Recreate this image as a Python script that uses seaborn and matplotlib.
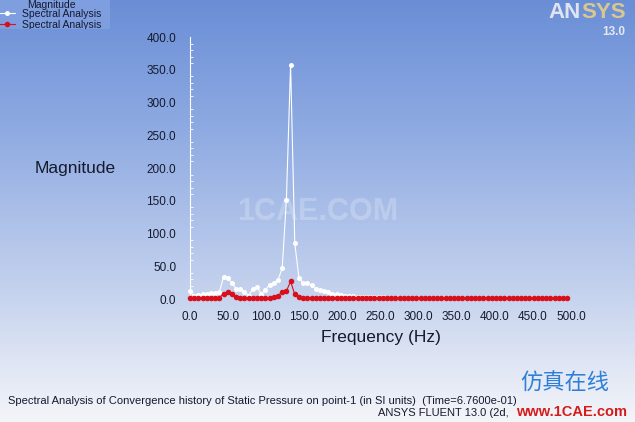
import numpy as np
import pandas as pd
import matplotlib
matplotlib.use("Agg")
import matplotlib.pyplot as plt
from matplotlib.colors import LinearSegmentedColormap
from matplotlib.transforms import Bbox
from matplotlib.patches import Rectangle
import seaborn as sns

# ---------------- data ----------------
freq_step_hz = 5.5
n_points = 91
frequency = [round(i * freq_step_hz, 2) for i in range(n_points)]

magnitude_white = [
    12, 4, 6, 7, 8, 9, 9, 10, 34, 32,
    24, 16, 15, 11, 5, 16, 18, 8, 14, 22,
    25, 29, 47, 151, 358, 85, 32, 25, 24, 21,
    15, 13, 12, 11, 8, 7, 6, 5, 4, 4,
    3, 3, 3, 3, 3, 3, 3, 2, 2, 2,
    2, 2, 2, 2, 2, 2, 2, 2, 2, 2,
    2, 2, 2, 2, 2, 2, 2, 2, 2, 2,
    2, 2, 2, 2, 2, 2, 2, 2, 2, 2,
    2, 2, 2, 2, 2, 2, 2, 2, 2, 2,
    2,
]
magnitude_red = [
    1.5, 1.5, 1.5, 1.5, 1.5, 1.5, 1.5, 2, 8, 10,
    7, 3, 2, 2, 2, 2, 2, 2, 2, 2,
    3, 5, 11, 12, 27, 7, 3, 2, 2, 2,
    2, 2, 2, 2, 2, 2, 2, 2, 2, 2,
    1.5, 1.5, 1.5, 1.5, 1.5, 1.5, 1.5, 1.5, 1.5, 1.5,
    1.5, 1.5, 1.5, 1.5, 1.5, 1.5, 1.5, 1.5, 1.5, 1.5,
    1.5, 1.5, 1.5, 1.5, 1.5, 1.5, 1.5, 1.5, 1.5, 1.5,
    1.5, 1.5, 1.5, 1.5, 1.5, 1.5, 1.5, 1.5, 1.5, 1.5,
    1.5, 1.5, 1.5, 1.5, 1.5, 1.5, 1.5, 1.5, 1.5, 1.5,
    1.5,
]
series_labels = ["Spectral Analysis", "Spectral Analysis"]
legend_title = "Magnitude"
x_ticks = [0, 50, 100, 150, 200, 250, 300, 350, 400, 450, 500]
y_ticks = [0, 50, 100, 150, 200, 250, 300, 350, 400]

df = pd.DataFrame({"freq": frequency, "white": magnitude_white, "red": magnitude_red})

# ---------------- style ----------------
sns.set_style("white")
plt.rcParams["font.family"] = ["Liberation Sans", "DejaVu Sans"]
text_col = "#151a2e"

fig = plt.figure(figsize=(6.35, 4.22), dpi=100)

# gradient background
bg = fig.add_axes([0, 0, 1, 1], zorder=-10)
cmap = LinearSegmentedColormap.from_list(
    "bg",
    [(0.0, "#6a8ed6"), (0.3, "#8eaae2"), (0.7, "#c6d3ee"), (1.0, "#f4f5f9")],
)
grad = np.linspace(0, 1, 256).reshape(-1, 1)
bg.imshow(grad, aspect="auto", cmap=cmap, extent=[0, 1, 0, 1], origin="upper")
bg.set_axis_off()

ax = fig.add_axes([190 / 635, 123 / 422, 381 / 635, 262 / 422])
ax.patch.set_alpha(0)

sns.lineplot(data=df, x="freq", y="white", ax=ax, color="white", lw=0.8,
             marker="o", markersize=3.6, markeredgewidth=0, label=series_labels[0],
             clip_on=False, zorder=3)
sns.lineplot(data=df, x="freq", y="red", ax=ax, color="#d8101c", lw=0.8,
             marker="o", markersize=4.0, markeredgewidth=0, label=series_labels[1],
             clip_on=False, zorder=4)

ax.set_xlim(0, 500)
ax.set_ylim(0, 400)
ax.set_xticks(x_ticks)
ax.set_yticks(y_ticks)
ax.set_yticks(np.arange(0, 401, 10), minor=True)
ax.set_xticklabels([f"{v:.1f}" for v in x_ticks])
ax.set_yticklabels([f"{v:.1f}" for v in y_ticks])
for s in ["top", "right"]:
    ax.spines[s].set_visible(False)
ax.spines["left"].set_color("white")
ax.spines["left"].set_linewidth(0.8)
ax.spines["bottom"].set_visible(False)
ax.tick_params(axis="y", which="major", direction="out", length=5, width=0.8,
               color="white", labelsize=8.5, labelcolor=text_col, pad=5)
ax.tick_params(axis="y", which="minor", direction="in", length=2.5, width=0.6,
               color="white", left=True)
ax.tick_params(axis="x", which="major", length=0, labelsize=8.5,
               labelcolor=text_col, pad=9)
ax.set_xlabel("Frequency (Hz)", fontsize=12.5, color=text_col, labelpad=5)
ax.set_ylabel("")
fig.text(75 / 635, 1 - 168 / 422, "Magnitude", fontsize=12.5, color=text_col,
         ha="center", va="center")

# legend (top-left, clipped box)
fig.patches.append(Rectangle((0, 1 - 29 / 422), 110 / 635, 29 / 422,
                             transform=fig.transFigure, facecolor="#7e9ee0",
                             edgecolor="none", zorder=-5))
fig.text(27 / 635, 1 - 5 / 422, legend_title, fontsize=7.5, color=text_col,
         ha="left", va="center")
leg = ax.legend(loc="upper left",
                bbox_to_anchor=(-0.002, 1 - 9 / 422), bbox_transform=fig.transFigure,
                frameon=False, fontsize=7.5,
                handlelength=1.6, handletextpad=0.6, borderpad=0.0,
                labelspacing=0.05, borderaxespad=0, markerscale=1.0)
clip = Bbox.from_extents(0, 422 - 29, 110, 422)
for t in leg.get_texts():
    t.set_color(text_col)
    t.set_clip_box(clip)
    t.set_clip_on(True)

# watermark text in the middle
fig.text(318 / 635, 1 - 212 / 422, "1CAE.COM", fontsize=22, fontweight="bold",
         color="white", alpha=0.22, ha="center", va="center")

# ANSYS logo
fig.text(548 / 635, 1 - 13 / 422, "AN", fontsize=16, fontweight="bold",
         color="#dfe4ee", ha="left", va="center")
fig.text(581 / 635, 1 - 13 / 422, "SYS", fontsize=16, fontweight="bold",
         color="#d8c88e", ha="left", va="center")
fig.text(625 / 635, 1 - 32 / 422, "13.0", fontsize=8.5, fontweight="bold",
         color="#e4e8f0", ha="right", va="center")

# caption
fig.text(8 / 635, 1 - 401 / 422,
         "Spectral Analysis of Convergence history of Static Pressure on point-1 (in SI units)  (Time=6.7600e-01)",
         fontsize=8, color=text_col, ha="left", va="center")
fig.text(378 / 635, 1 - 413 / 422, "ANSYS FLUENT 13.0 (2d,",
         fontsize=8, color=text_col, ha="left", va="center")

# site watermark bottom-right
fig.text(565 / 635, 1 - 383 / 422, "仿真在线", fontsize=16,
         family=["Noto Sans CJK SC", "DejaVu Sans"], color="#2f7fd8",
         ha="center", va="center")
fig.text(572 / 635, 1 - 412 / 422, "www.1CAE.com", fontsize=10.5, fontweight="bold",
         color="#d41c1c", ha="center", va="center")

fig.savefig("out.png", dpi=100)
